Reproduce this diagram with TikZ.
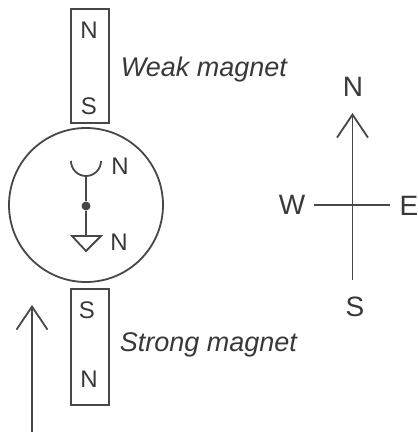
\documentclass[tikz,border=0pt]{standalone}
\usepackage{fontspec}
\setmainfont{Liberation Sans}
\usetikzlibrary{arrows.meta}

\begin{document}
\begin{tikzpicture}[x=1pt,y=-1pt,line width=1.8pt,draw=black!72,text=black!78,
                    >={Straight Barb[length=23pt,width=31pt,line width=1.8pt]}]
  \tikzstyle{magnet}=[draw,rectangle,minimum width=38pt,inner sep=0pt]
  \tikzstyle{pole}=[inner sep=0pt,font=\fontsize{24}{24}\selectfont]
  \tikzstyle{point}=[inner sep=0pt,font=\fontsize{28}{28}\selectfont]
  \tikzstyle{caption}=[inner sep=0pt,anchor=west,font=\fontsize{27}{28}\selectfont\itshape]
  \useasboundingbox (0,0) rectangle (418,432);

  \node[magnet,minimum height=114pt] (weak)   at (90,66)  {};
  \node[magnet,minimum height=116pt] (strong) at (90,347) {};
  \node[draw,circle,minimum size=154pt,inner sep=0pt] (compass) at (86,205) {};

  \node[pole] (weakN)   at (89,30)  {N};
  \node[pole] (weakS)   at (89,106) {S};
  \node[pole] (strongS) at (87,310) {S};
  \node[pole] (strongN) at (89,379) {N};
  \node[caption] (weaklabel)   at (120,70)  {Weak magnet};
  \node[caption] (stronglabel) at (119,345) {Strong magnet};

  \coordinate (cupL) at (71,161);
  \coordinate (cupR) at (101,161);
  \coordinate (cupB) at (86,176);
  \coordinate (triL) at (72,236);
  \coordinate (triR) at (101,236);
  \coordinate (triB) at (86,251);
  \coordinate (triT) at (86,236);
  \node[circle,fill=black!72,minimum size=9pt,inner sep=0pt] (pivot) at (86,206) {};
  \node[pole] (needleN) at (120,166) {N};
  \node[pole] (needleS) at (119,242) {N};

  \draw (cupL) arc[start angle=180,end angle=360,radius=15pt];
  \draw (cupB) -- (pivot);
  \draw (pivot) -- (triT);
  \draw (triL) -- (triR) -- (triB) -- cycle;

  \coordinate (fieldS) at (32,432);
  \coordinate (fieldN) at (32,305);
  \draw[->] (fieldS) -- (fieldN);

  \node[point] (north) at (353,87)  {N};
  \node[point] (south) at (355,307) {S};
  \node[point] (west)  at (292,205) {W};
  \node[point] (east)  at (409,206) {E};
  \coordinate (roseN) at (352.5,113);
  \coordinate (roseS) at (352.5,280);
  \coordinate (roseW) at (314,205);
  \coordinate (roseE) at (390,205);
  \draw[->] (roseS) -- (roseN);
  \draw (roseW) -- (roseE);
\end{tikzpicture}
\end{document}
